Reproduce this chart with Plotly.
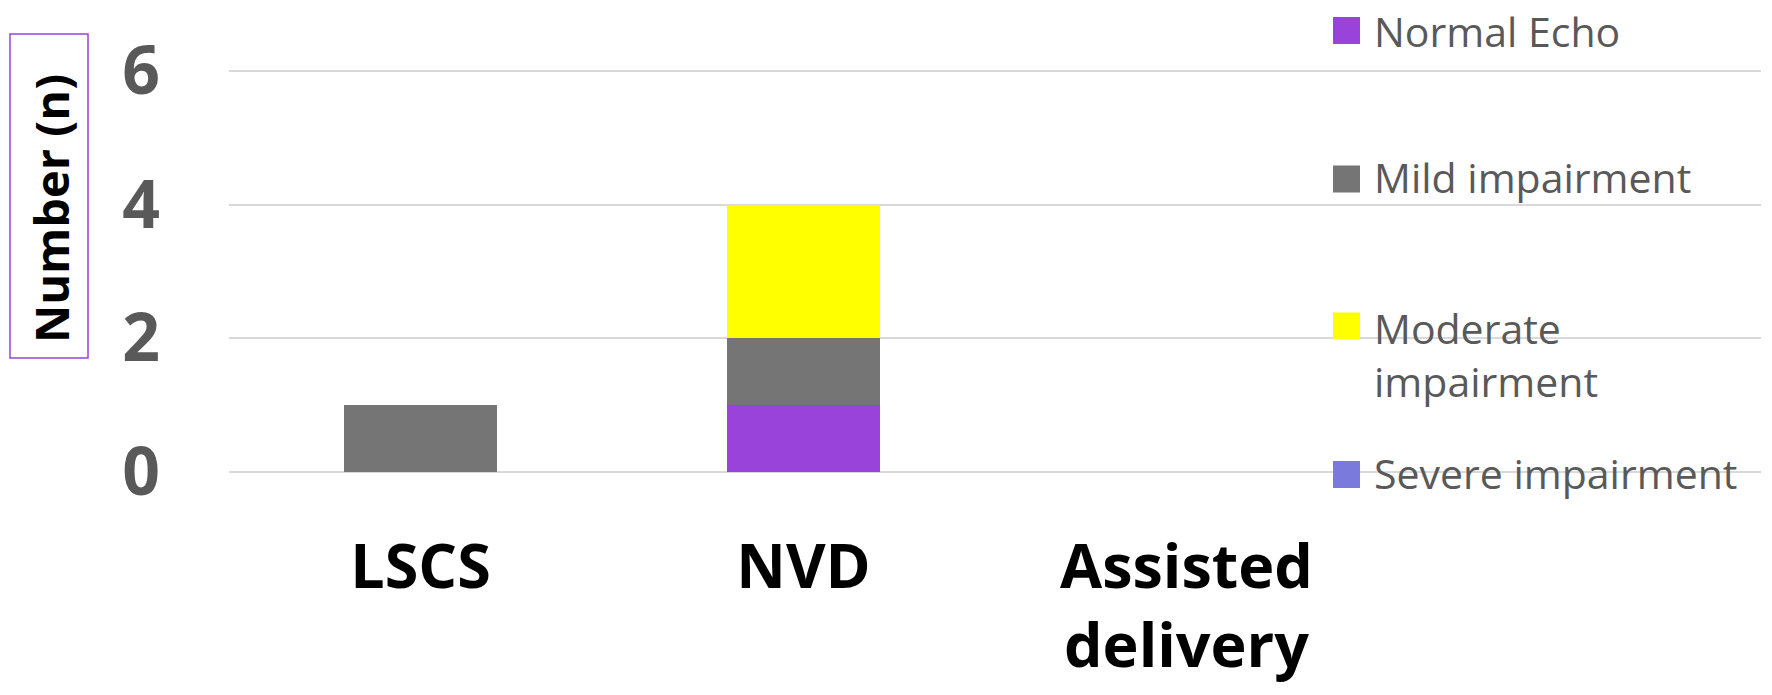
import plotly.graph_objects as go

# ---- data ----
categories = ["LSCS", "NVD", "Assisted delivery"]
category_labels = ["LSCS", "NVD", "Assisted<br>delivery"]
series_names = ["Normal Echo", "Mild impairment", "Moderate impairment", "Severe impairment"]
legend_labels = ["Normal Echo", "Mild impairment", "Moderate<br>impairment", "Severe impairment"]
normal_echo = [0, 1, 0]
mild_impairment = [1, 1, 0]
moderate_impairment = [0, 2, 0]
severe_impairment = [0, 0, 0]
y_ticks = [0, 2, 4, 6]
y_title = "Number (n)"

series_values = [normal_echo, mild_impairment, moderate_impairment, severe_impairment]
colors = ["#9A43DB", "#757575", "#FFFF00", "#7A7ADC"]

# ---- layout geometry (page pixels; body margin removed in post_script) ----
W, H = 1772, 695
Y_TOP = 6.045
PLOT_L, PLOT_R, PLOT_T, PLOT_B = 229, 1761, 68, 472
L = PLOT_L
R = W - PLOT_R
T = PLOT_T
B = H - PLOT_B
PW = PLOT_R - PLOT_L
PH = PLOT_B - PLOT_T


def px(x):
    return (x - PLOT_L) / PW


def py(y):
    return (PLOT_B - y) / PH


fig = go.Figure()
for name, vals, col in zip(series_names, series_values, colors):
    fig.add_trace(go.Bar(
        x=categories, y=vals, name=name,
        marker=dict(color=col, line=dict(width=0)),
        width=0.4, showlegend=False,
    ))

fig.update_layout(
    width=W, height=H,
    margin=dict(l=L, r=R, t=T, b=B, pad=0),
    barmode="stack",
    plot_bgcolor="white", paper_bgcolor="white",
    font=dict(family="Open Sans", color="#595959"),
    showlegend=False,
)

fig.update_xaxes(
    type="category",
    categoryorder="array", categoryarray=categories,
    tickmode="array", tickvals=categories, ticktext=category_labels,
    range=[-0.5, 3.5],
    showgrid=False, showline=False, zeroline=False, ticks="",
    tickfont=dict(family="Open Sans", size=61, color="black", weight="bold"),
    ticklabelstandoff=54,
)
fig.update_yaxes(
    range=[0, Y_TOP], tickmode="array", tickvals=y_ticks,
    showgrid=True, gridcolor="#D9D9D9", gridwidth=2,
    zeroline=True, zerolinecolor="#D9D9D9", zerolinewidth=2,
    showline=False, ticks="",
    tickfont=dict(family="Open Sans", size=66, color="#595959", weight="bold"),
    ticklabelstandoff=68,
)

# y-axis title in a bordered box
fig.add_shape(type="rect", xref="paper", yref="paper",
              x0=px(10), x1=px(88), y0=py(358), y1=py(34),
              line=dict(color="#9B44DB", width=1.5), fillcolor="rgba(0,0,0,0)")
fig.add_annotation(xref="paper", yref="paper", x=px(51), y=py(209),
                   text=y_title, textangle=-90, showarrow=False,
                   xanchor="center", yanchor="middle",
                   font=dict(family="Open Sans", size=47, color="black", weight="bold"))

# legend (built from the series lists)
legend_marker_centers = [30.5, 179, 326, 474.5]
legend_text_centers = [31, 177, 354.5, 473]
for lab, col, mc, tc in zip(legend_labels, colors, legend_marker_centers, legend_text_centers):
    fig.add_shape(type="rect", xref="paper", yref="paper",
                  x0=px(1333), x1=px(1360), y0=py(mc + 13.5), y1=py(mc - 13.5),
                  line=dict(width=0), fillcolor=col)
    fig.add_annotation(xref="paper", yref="paper", x=px(1372), y=py(tc),
                       text=lab, showarrow=False, align="left",
                       xanchor="left", yanchor="middle",
                       font=dict(family="Open Sans", size=41, color="#595959"))

fig.write_html("out.html", config={"displayModeBar": False},
               post_script="document.body.style.margin='0';")
